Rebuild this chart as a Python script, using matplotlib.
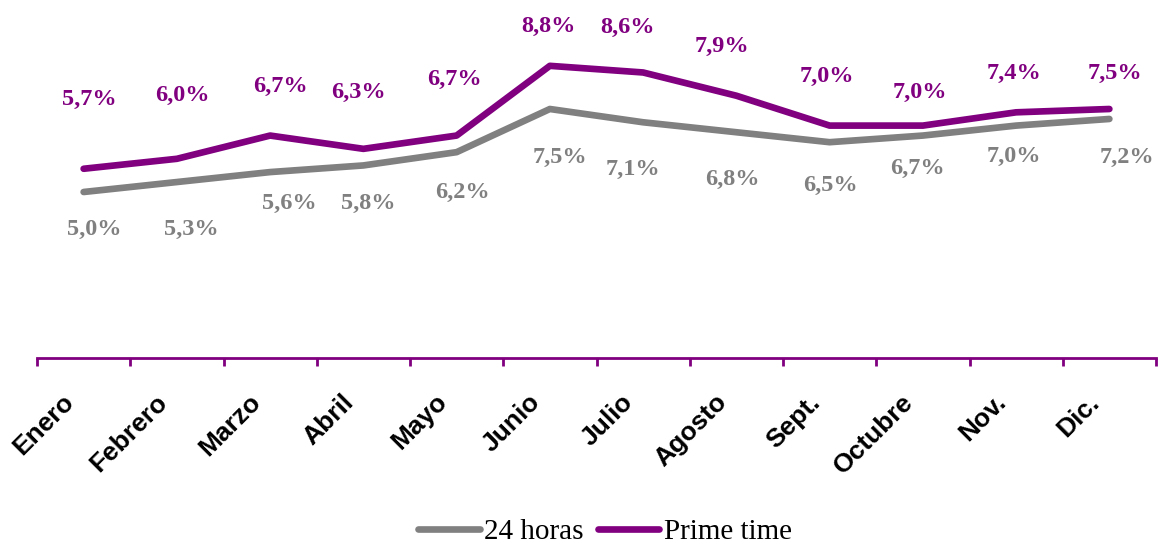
import matplotlib
matplotlib.use('Agg')
import matplotlib.pyplot as plt
import numpy as np

# Data
months = ['Enero', 'Febrero', 'Marzo', 'Abril', 'Mayo', 'Junio',
          'Julio', 'Agosto', 'Sept.', 'Octubre', 'Nov.', 'Dic.']
horas24 = [5.0, 5.3, 5.6, 5.8, 6.2, 7.5, 7.1, 6.8, 6.5, 6.7, 7.0, 7.2]
prime = [5.7, 6.0, 6.7, 6.3, 6.7, 8.8, 8.6, 7.9, 7.0, 7.0, 7.4, 7.5]

# Label placement (pixel offsets from each point), as on the original
prime_dx = [6, 6, 10, -5, -2, -1, -16, -14, -3, -3, -2, 6]
prime_dy = [69, 63, 49, 56, 56, 39, 45, 49, 49, 33, 39, 36]
gray_dx = [11, 14, 19, 5, 6, 10, -10, -4, 1, -5, -2, 18]
gray_dy = [-37, -47, -31, -38, -40, -48, -47, -47, -43, -33, -31, -38]

purple = '#800080'
gray = '#808080'

fig = plt.figure(figsize=(11.6, 5.45), dpi=100)
ax = fig.add_axes([37 / 1160, 1 - 358 / 545, (1156 - 37) / 1160, 332 / 545])

x = np.arange(len(months))
ax.plot(x, horas24, color=gray, lw=4.8, solid_capstyle='round',
        solid_joinstyle='round', label='24 horas')
ax.plot(x, prime, color=purple, lw=4.8, solid_capstyle='round',
        solid_joinstyle='round', label='Prime time')

lab_font = {'family': 'Liberation Serif', 'weight': 'bold', 'size': 17.5}
for i in range(len(months)):
    ax.annotate(('%.1f%%' % prime[i]).replace('.', ','), (x[i], prime[i]),
                xytext=(prime_dx[i], prime_dy[i]), textcoords='offset pixels',
                ha='center', va='center', color=purple,
                annotation_clip=False, **lab_font)
    ax.annotate(('%.1f%%' % horas24[i]).replace('.', ','), (x[i], horas24[i]),
                xytext=(gray_dx[i], gray_dy[i]), textcoords='offset pixels',
                ha='center', va='center', color=gray,
                annotation_clip=False, **lab_font)

ax.set_xlim(-0.5, len(months) - 0.5)
ax.set_ylim(0, 10)

for s in ['top', 'right', 'left']:
    ax.spines[s].set_visible(False)
ax.spines['bottom'].set_color(purple)
ax.spines['bottom'].set_linewidth(2)
ax.set_yticks([])

ax.set_xticks(x)
ax.set_xticks(np.arange(-0.5, len(months)), minor=True)
ax.tick_params(axis='x', which='major', length=0, pad=23)
ax.tick_params(axis='x', which='minor', length=6, width=2, color=purple,
               direction='out')
ax.set_xticklabels(months, rotation=45, ha='right', rotation_mode='anchor',
                   family='Liberation Sans', weight='bold', fontsize=19)
for t in ax.get_xticklabels():
    t.set_transform(t.get_transform() +
                    matplotlib.transforms.ScaledTranslation(-0.22, 0, fig.dpi_scale_trans))

leg = fig.legend(loc='center', bbox_to_anchor=(605 / 1160, 1 - 532 / 545),
                 ncol=2, frameon=False, handlelength=2.1, handletextpad=0.15,
                 columnspacing=0.5, borderaxespad=0, borderpad=0.1,
                 prop={'family': 'Liberation Serif', 'size': 21})

fig.savefig('out.png', dpi=100)
